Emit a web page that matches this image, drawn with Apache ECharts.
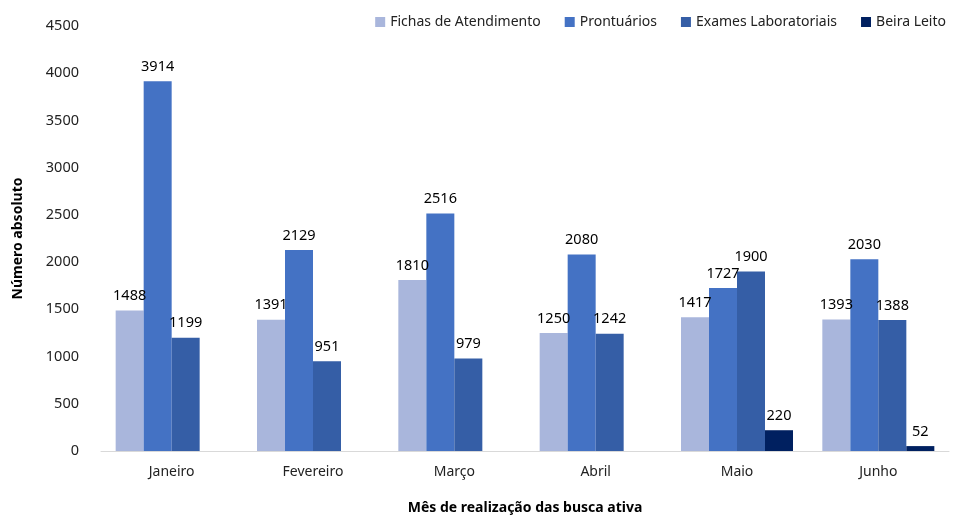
<!DOCTYPE html>
<html>
<head>
<meta charset="utf-8">
<script src="https://cdn.jsdelivr.net/npm/echarts@6/dist/echarts.min.js"></script>
<style>
  html, body { margin: 0; padding: 0; background: #fff; }
  #chart { width: 965px; height: 515px; }
</style>
</head>
<body>
<div id="chart"></div>
<script>
const meses = ['Janeiro', 'Fevereiro', 'Março', 'Abril', 'Maio', 'Junho']
const fichas = [1488, 1391, 1810, 1250, 1417, 1393]
const prontuarios = [3914, 2129, 2516, 2080, 1727, 2030]
const exames = [1199, 951, 979, 1242, 1900, 1388]
const beiraLeito = [null, null, null, null, 220, 52]

const fonte = 'Noto Sans, sans-serif'
const chart = echarts.init(document.getElementById('chart'))

function serie(nome, dados, cor) {
  return {
    name: nome,
    type: 'bar',
    data: dados,
    barWidth: 28,
    barGap: '0%',
    itemStyle: { color: cor },
    label: {
      show: true,
      position: 'top',
      distance: 7,
      color: '#000',
      fontSize: 14.5,
      fontFamily: fonte
    }
  }
}

chart.setOption({
  animation: false,
  textStyle: { fontFamily: fonte },
  legend: {
    top: 10,
    right: 14,
    icon: 'rect',
    itemWidth: 10,
    itemHeight: 10,
    itemGap: 24,
    textStyle: { fontSize: 14, color: '#222', fontFamily: fonte }
  },
  grid: { left: 101, right: 16, top: 26, bottom: 64, outerBoundsMode: 'none', containLabel: false },
  xAxis: {
    type: 'category',
    data: meses,
    name: 'Mês de realização das busca ativa',
    nameLocation: 'middle',
    nameGap: 50,
    nameTextStyle: { fontWeight: 'bold', fontSize: 14, color: '#000' },
    axisLine: { lineStyle: { color: '#d9d9d9' } },
    axisTick: { show: false },
    axisLabel: { color: '#222', fontSize: 14, margin: 14 }
  },
  yAxis: {
    type: 'value',
    min: 0,
    max: 4500,
    interval: 500,
    name: 'Número absoluto',
    nameLocation: 'middle',
    nameGap: 76,
    nameTextStyle: { fontWeight: 'bold', fontSize: 14, color: '#000' },
    axisLine: { show: false },
    axisTick: { show: false },
    splitLine: { show: false },
    axisLabel: { color: '#222', fontSize: 14.5, margin: 22, formatter: (v) => String(v) }
  },
  series: [
    serie('Fichas de Atendimento', fichas, '#a9b6dc'),
    serie('Prontuários', prontuarios, '#4472c4'),
    serie('Exames Laboratoriais', exames, '#355ea6'),
    serie('Beira Leito', beiraLeito, '#002060')
  ]
})
</script>
</body>
</html>
